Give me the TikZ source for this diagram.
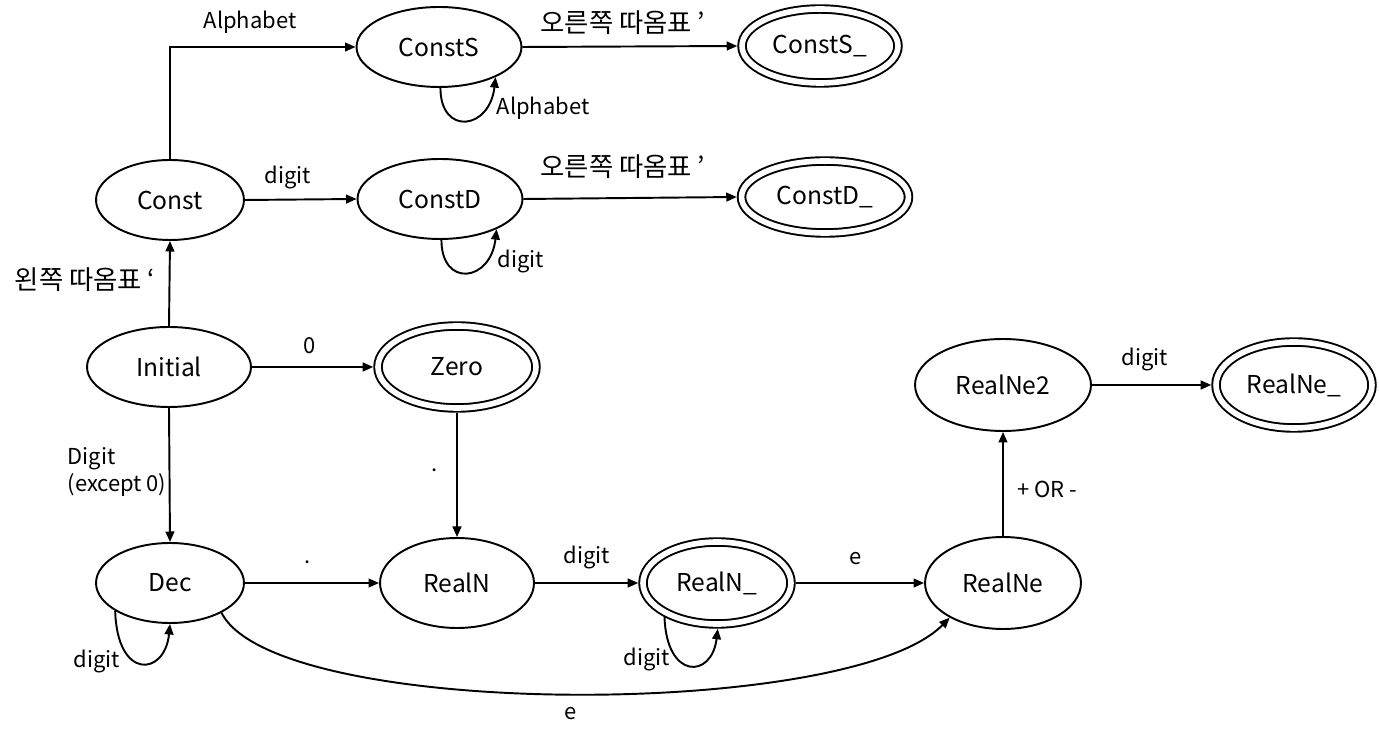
\documentclass[tikz,border=0pt]{standalone}
\usepackage{fontspec}
\setmainfont{Noto Sans CJK KR}
\usetikzlibrary{arrows.meta,shapes.geometric}
\begin{document}
\begin{tikzpicture}[x=0.02cm,y=-0.02cm,
  st/.style={ellipse,draw,line width=1.1pt,inner sep=0pt,font=\fontsize{14}{17}\selectfont},
  acc/.style={st,double,double distance=3.2pt,outer sep=2.7pt},
  arr/.style={line width=1.1pt,-{Triangle[length=6pt,width=5pt]}},
  lbl/.style={inner sep=0pt,font=\fontsize{12.5}{15}\selectfont},
  klbl/.style={inner sep=0pt,font=\fontsize{15}{17}\selectfont}]
\useasboundingbox (0,0) rectangle (1379,742);
% states
\node[st,minimum width=3.3cm,minimum height=1.6cm] (ConstS) at (439,47) {ConstS};
\node[acc,minimum width=3.12cm,minimum height=1.48cm] (ConstSa) at (820,46) {ConstS\_};
\node[st,minimum width=2.96cm,minimum height=1.6cm] (Const) at (170,200) {Const};
\node[st,minimum width=3.3cm,minimum height=1.6cm] (ConstD) at (440,199) {ConstD};
\node[acc,minimum width=3.34cm,minimum height=1.44cm] (ConstDa) at (825,197) {ConstD\_};
\node[st,minimum width=3.28cm,minimum height=1.6cm] (Initial) at (169,367) {Initial};
\node[acc,minimum width=3.16cm,minimum height=1.64cm] (Zero) at (457,367) {Zero};
\node[st,minimum width=2.96cm,minimum height=1.6cm] (Dec) at (170,583) {Dec};
\node[st,minimum width=3.08cm,minimum height=1.8cm] (RealN) at (457,583) {RealN};
\node[acc,minimum width=2.96cm,minimum height=1.64cm] (RealNa) at (717,583) {RealN\_};
\node[st,minimum width=3.12cm,minimum height=1.84cm] (RealNe) at (1003,583) {RealNe};
\node[st,minimum width=3.52cm,minimum height=1.84cm] (RealNe2) at (1003,385) {RealNe2};
\node[acc,minimum width=3.12cm,minimum height=1.72cm] (RealNea) at (1294,385) {RealNe\_};
% transitions
\draw[arr] (Const.north) |- (ConstS.west) node[lbl] at (250,22) {Alphabet};
\draw[arr] (ConstS.east) -- (ConstSa.west) node[klbl] at (623,23) {오른쪽 따옴표 ’};
\draw[arr] (ConstS.-88) .. controls +(0,48) and +(-6,53) .. (ConstS.-28) node[lbl] at (543,108) {Alphabet};
\draw[arr] (Const.east) -- (ConstD.west) node[lbl] at (288,178) {digit};
\draw[arr] (ConstD.east) -- (ConstDa.west) node[klbl] at (623,167) {오른쪽 따옴표 ’};
\draw[arr] (ConstD.-88) .. controls +(0,48) and +(-6,53) .. (ConstD.-28) node[lbl] at (521,262) {digit};
\draw[arr] (Initial.north) -- (Const.south) node[klbl] at (85,280) {왼쪽 따옴표 ‘};
\draw[arr] (Initial.east) -- (Zero.west) node[lbl] at (310,346) {0};
\draw[arr] (Initial.south) -- (Dec.north) node[lbl,align=left] at (117,472) {Digit\\(except 0)};
\draw[arr] (Zero.south) -- (RealN.north) node[lbl] at (435,470) {.};
\draw[arr] (Dec.east) -- (RealN.west) node[lbl] at (308,562) {.};
\draw[arr] (Dec.-153) .. controls +(2,70) and +(-5,52) .. (Dec.-90) node[lbl] at (97,662) {digit};
\draw[arr] (RealN.east) -- (RealNa.west) node[lbl] at (587,558) {digit};
\draw[arr] (RealNa.-147) .. controls +(2,63) and +(-6,50) .. (RealNa.-89) node[lbl] at (647,660) {digit};
\draw[arr] (RealNa.east) -- (RealNe.west) node[lbl] at (856,559) {e};
\draw[arr] (Dec.-30) .. controls (275,720) and (850,720) .. (RealNe.-147) node[lbl] at (571,714) {e};
\draw[arr] (RealNe.north) -- (RealNe2.south) node[lbl] at (1047,489) {+ OR -};
\draw[arr] (RealNe2.east) -- (RealNea.west) node[lbl] at (1145,360) {digit};
\end{tikzpicture}
\end{document}
